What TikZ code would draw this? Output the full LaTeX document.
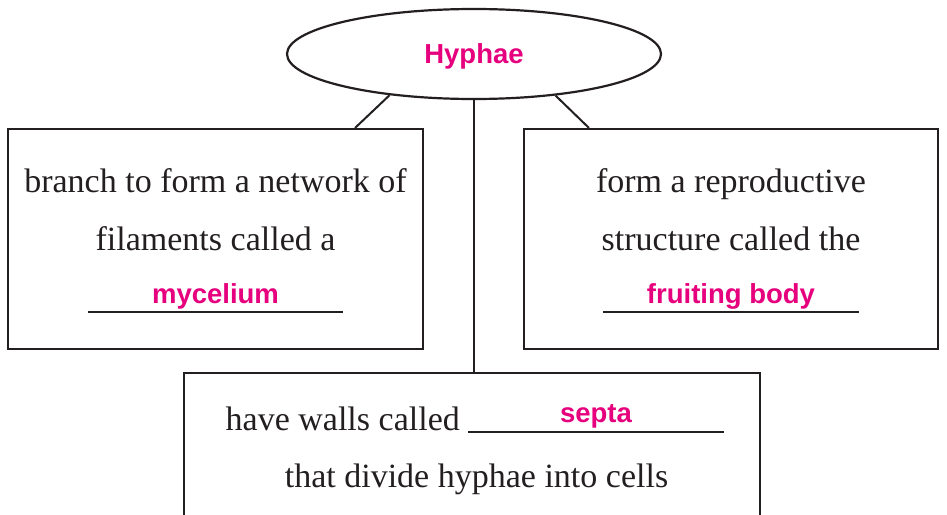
\documentclass[tikz,border=0pt]{standalone}
\usepackage{fontspec}
\setmainfont{Liberation Serif}
\newfontfamily\answerfont{Liberation Sans}
\usetikzlibrary{shapes.geometric}
\definecolor{ink}{HTML}{231F20}
\definecolor{answer}{RGB}{230,0,126}
\tikzset{
  box/.style={draw=ink, line width=2.2pt, rectangle, inner sep=0pt, fill=white},
  oval/.style={draw=ink, line width=2.2pt, ellipse, inner sep=0pt, fill=white},
  link/.style={draw=ink, line width=2pt},
  uline/.style={draw=ink, line width=1.6pt},
  bodytext/.style={anchor=base, inner sep=0pt, text=ink, font=\fontsize{34}{40}\selectfont},
  anstext/.style={anchor=base, inner sep=0pt, text=answer, font=\answerfont\bfseries\fontsize{27.5}{32}\selectfont}
}
\begin{document}
\begin{tikzpicture}[x=1pt,y=-1pt]
\useasboundingbox (0,0) rectangle (947,514);
\clip (0,0) rectangle (947,514);
% boxes
\node[oval, minimum width=374pt, minimum height=90pt] (hyphae) at (474,54) {};
\node[box, minimum width=415pt, minimum height=220pt] (leftbox) at (215.5,239) {};
\node[box, minimum width=414pt, minimum height=220pt] (rightbox) at (731,239) {};
\node[box, minimum width=576pt, minimum height=170pt] (bottombox) at (472,458) {};
% connectors
\draw[link] (hyphae.206) -- ([xshift=-69pt]leftbox.north east);
\draw[link] (hyphae.333) -- ([xshift=66pt]rightbox.north west);
\draw[link] (hyphae.south) -- (hyphae.south |- bottombox.north);
% title
\node[anstext] (title) at (474,63) {Hyphae};
% left box text
\node[bodytext] (l1) at (215.5,192) {branch to form a network of};
\node[bodytext] (l2) at (215.5,250) {filaments called a};
\draw[uline] (88,312) -- (343,312);
\node[anstext] (lans) at (215.5,303) {mycelium};
% right box text
\node[bodytext] (r1) at (731,192) {form a reproductive};
\node[bodytext] (r2) at (731,250) {structure called the};
\draw[uline] (603,312) -- (859,312);
\node[anstext] (rans) at (731,303) {fruiting body};
% bottom box text
\node[bodytext, anchor=base east] (b1) at (460,430) {have walls called};
\draw[uline] (468,432) -- (724,432);
\node[anstext] (bans) at (596,422) {septa};
\node[bodytext] (b2) at (476.5,487) {that divide hyphae into cells};
\end{tikzpicture}
\end{document}
